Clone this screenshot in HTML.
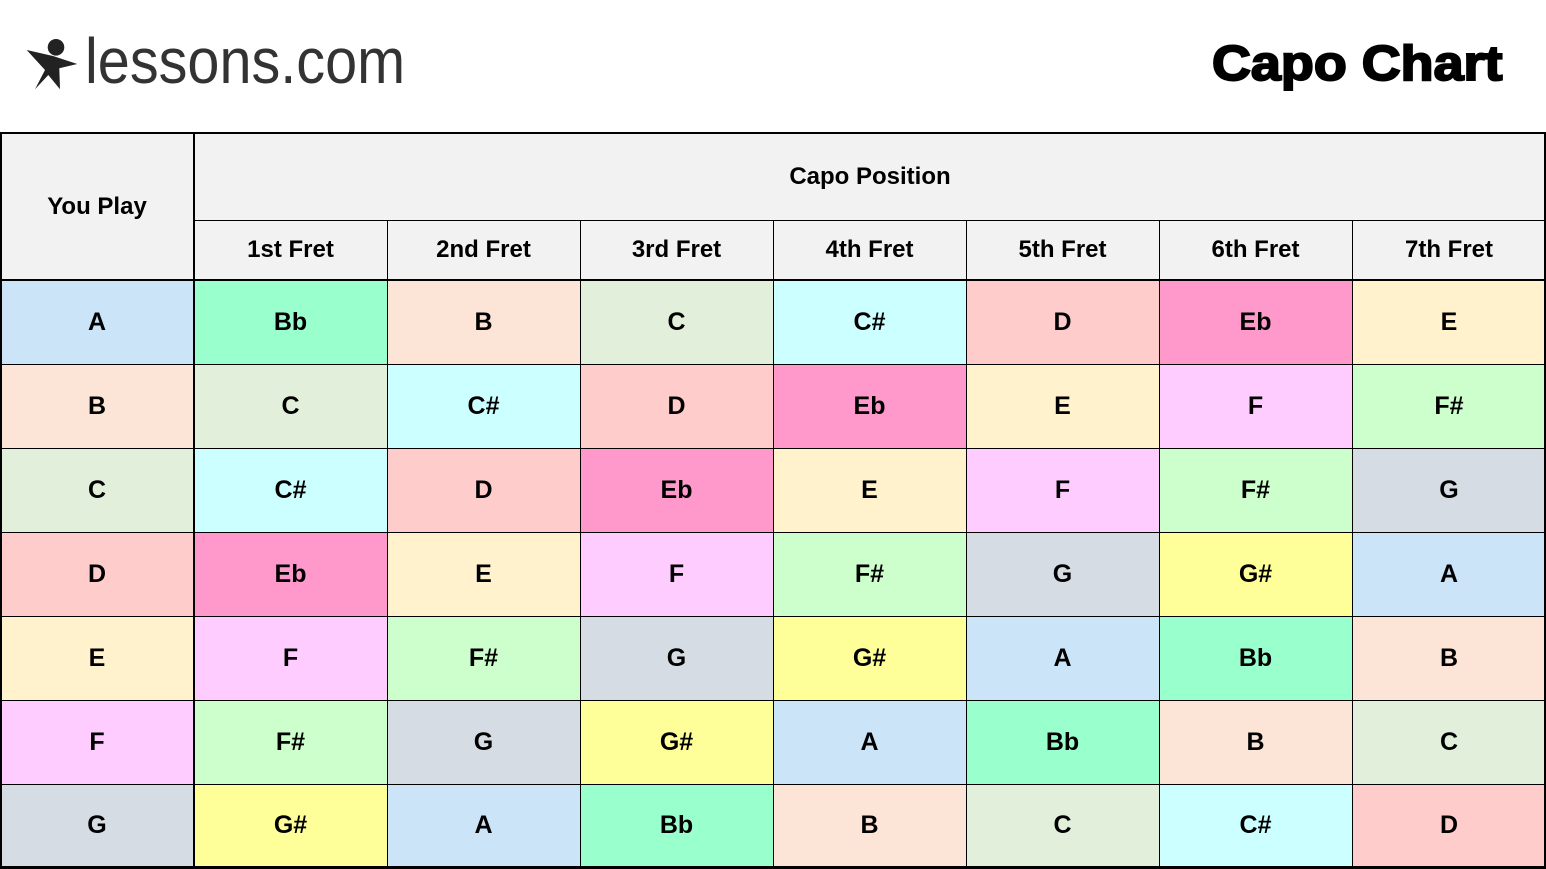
<!DOCTYPE html>
<html>
<head>
<meta charset="utf-8">
<style>
html,body{margin:0;padding:0;background:#fff;}
body{width:1546px;height:869px;position:relative;overflow:hidden;font-family:"Liberation Sans",Arial,sans-serif;}
.c{position:absolute;display:flex;align-items:center;justify-content:center;font-weight:bold;font-size:25px;color:#000;box-sizing:border-box;}
.h{font-size:24px;background:#f2f2f2;}
.hl{position:absolute;background:#000;height:1px;}
.vl{position:absolute;background:#000;width:1px;}
.A{background:#cbe4f8}.Bb{background:#99ffcc}.B{background:#fce4d6}.C{background:#e2efda}
.Cs{background:#ccffff}.D{background:#ffcccc}.Eb{background:#ff99cc}.E{background:#fff2cc}
.F{background:#ffccff}.Fs{background:#ccffcc}.G{background:#d6dce4}.Gs{background:#ffff99}
</style>
</head>
<body>
<svg style="position:absolute;left:0;top:0" width="110" height="110" viewBox="0 0 110 110">
<circle cx="56" cy="47.3" r="8.3" fill="#222"/>
<polygon points="26.7,50 53,56 77.3,64 59.3,68.3 60,89.3 48.3,75 35,89.3 45,70" fill="#222"/>
</svg>
<div style="position:absolute;left:85px;top:29px;font-size:64px;line-height:64px;color:#333;transform:scaleX(0.9);transform-origin:0 0;white-space:nowrap;">lessons.com</div>
<div style="position:absolute;left:1212px;top:40px;font-size:49px;line-height:49px;font-weight:bold;color:#000;-webkit-text-stroke:2px #000;transform:scaleX(1.1);transform-origin:0 0;white-space:nowrap;">Capo Chart</div>

<!-- header -->
<div class="c h" style="left:0;top:133px;width:194px;height:147px;">You Play</div>
<div class="c h" style="left:194px;top:133px;width:1352px;height:87px;">Capo Position</div>
<div class="c h" style="left:194px;top:220px;width:193px;height:60px;">1st Fret</div>
<div class="c h" style="left:387px;top:220px;width:193px;height:60px;">2nd Fret</div>
<div class="c h" style="left:580px;top:220px;width:193px;height:60px;">3rd Fret</div>
<div class="c h" style="left:773px;top:220px;width:193px;height:60px;">4th Fret</div>
<div class="c h" style="left:966px;top:220px;width:193px;height:60px;">5th Fret</div>
<div class="c h" style="left:1159px;top:220px;width:193px;height:60px;">6th Fret</div>
<div class="c h" style="left:1352px;top:220px;width:194px;height:60px;">7th Fret</div>

<!-- row 1 -->
<div class="c A" style="left:0;top:280px;width:194px;height:84px;">A</div>
<div class="c Bb" style="left:194px;top:280px;width:193px;height:84px;">Bb</div>
<div class="c B" style="left:387px;top:280px;width:193px;height:84px;">B</div>
<div class="c C" style="left:580px;top:280px;width:193px;height:84px;">C</div>
<div class="c Cs" style="left:773px;top:280px;width:193px;height:84px;">C#</div>
<div class="c D" style="left:966px;top:280px;width:193px;height:84px;">D</div>
<div class="c Eb" style="left:1159px;top:280px;width:193px;height:84px;">Eb</div>
<div class="c E" style="left:1352px;top:280px;width:194px;height:84px;">E</div>
<!-- row 2 -->
<div class="c B" style="left:0;top:364px;width:194px;height:84px;">B</div>
<div class="c C" style="left:194px;top:364px;width:193px;height:84px;">C</div>
<div class="c Cs" style="left:387px;top:364px;width:193px;height:84px;">C#</div>
<div class="c D" style="left:580px;top:364px;width:193px;height:84px;">D</div>
<div class="c Eb" style="left:773px;top:364px;width:193px;height:84px;">Eb</div>
<div class="c E" style="left:966px;top:364px;width:193px;height:84px;">E</div>
<div class="c F" style="left:1159px;top:364px;width:193px;height:84px;">F</div>
<div class="c Fs" style="left:1352px;top:364px;width:194px;height:84px;">F#</div>
<!-- row 3 -->
<div class="c C" style="left:0;top:448px;width:194px;height:84px;">C</div>
<div class="c Cs" style="left:194px;top:448px;width:193px;height:84px;">C#</div>
<div class="c D" style="left:387px;top:448px;width:193px;height:84px;">D</div>
<div class="c Eb" style="left:580px;top:448px;width:193px;height:84px;">Eb</div>
<div class="c E" style="left:773px;top:448px;width:193px;height:84px;">E</div>
<div class="c F" style="left:966px;top:448px;width:193px;height:84px;">F</div>
<div class="c Fs" style="left:1159px;top:448px;width:193px;height:84px;">F#</div>
<div class="c G" style="left:1352px;top:448px;width:194px;height:84px;">G</div>
<!-- row 4 -->
<div class="c D" style="left:0;top:532px;width:194px;height:84px;">D</div>
<div class="c Eb" style="left:194px;top:532px;width:193px;height:84px;">Eb</div>
<div class="c E" style="left:387px;top:532px;width:193px;height:84px;">E</div>
<div class="c F" style="left:580px;top:532px;width:193px;height:84px;">F</div>
<div class="c Fs" style="left:773px;top:532px;width:193px;height:84px;">F#</div>
<div class="c G" style="left:966px;top:532px;width:193px;height:84px;">G</div>
<div class="c Gs" style="left:1159px;top:532px;width:193px;height:84px;">G#</div>
<div class="c A" style="left:1352px;top:532px;width:194px;height:84px;">A</div>
<!-- row 5 -->
<div class="c E" style="left:0;top:616px;width:194px;height:84px;">E</div>
<div class="c F" style="left:194px;top:616px;width:193px;height:84px;">F</div>
<div class="c Fs" style="left:387px;top:616px;width:193px;height:84px;">F#</div>
<div class="c G" style="left:580px;top:616px;width:193px;height:84px;">G</div>
<div class="c Gs" style="left:773px;top:616px;width:193px;height:84px;">G#</div>
<div class="c A" style="left:966px;top:616px;width:193px;height:84px;">A</div>
<div class="c Bb" style="left:1159px;top:616px;width:193px;height:84px;">Bb</div>
<div class="c B" style="left:1352px;top:616px;width:194px;height:84px;">B</div>
<!-- row 6 -->
<div class="c F" style="left:0;top:700px;width:194px;height:84px;">F</div>
<div class="c Fs" style="left:194px;top:700px;width:193px;height:84px;">F#</div>
<div class="c G" style="left:387px;top:700px;width:193px;height:84px;">G</div>
<div class="c Gs" style="left:580px;top:700px;width:193px;height:84px;">G#</div>
<div class="c A" style="left:773px;top:700px;width:193px;height:84px;">A</div>
<div class="c Bb" style="left:966px;top:700px;width:193px;height:84px;">Bb</div>
<div class="c B" style="left:1159px;top:700px;width:193px;height:84px;">B</div>
<div class="c C" style="left:1352px;top:700px;width:194px;height:84px;">C</div>
<!-- row 7 -->
<div class="c G" style="left:0;top:784px;width:194px;height:82px;">G</div>
<div class="c Gs" style="left:194px;top:784px;width:193px;height:82px;">G#</div>
<div class="c A" style="left:387px;top:784px;width:193px;height:82px;">A</div>
<div class="c Bb" style="left:580px;top:784px;width:193px;height:82px;">Bb</div>
<div class="c B" style="left:773px;top:784px;width:193px;height:82px;">B</div>
<div class="c C" style="left:966px;top:784px;width:193px;height:82px;">C</div>
<div class="c Cs" style="left:1159px;top:784px;width:193px;height:82px;">C#</div>
<div class="c D" style="left:1352px;top:784px;width:194px;height:82px;">D</div>

<!-- grid lines -->
<div class="hl" style="left:194px;top:220px;width:1352px;"></div>
<div class="hl" style="left:0;top:279px;width:1546px;height:2px;"></div>
<div class="hl" style="left:0;top:364px;width:1546px;"></div>
<div class="hl" style="left:0;top:448px;width:1546px;"></div>
<div class="hl" style="left:0;top:532px;width:1546px;"></div>
<div class="hl" style="left:0;top:616px;width:1546px;"></div>
<div class="hl" style="left:0;top:700px;width:1546px;"></div>
<div class="hl" style="left:0;top:784px;width:1546px;"></div>

<div class="vl" style="left:193px;top:133px;height:735px;width:2px;"></div>
<div class="vl" style="left:387px;top:220px;height:648px;"></div>
<div class="vl" style="left:580px;top:220px;height:648px;"></div>
<div class="vl" style="left:773px;top:220px;height:648px;"></div>
<div class="vl" style="left:966px;top:220px;height:648px;"></div>
<div class="vl" style="left:1159px;top:220px;height:648px;"></div>
<div class="vl" style="left:1352px;top:220px;height:648px;"></div>

<!-- outer border -->
<div class="hl" style="left:0;top:132px;width:1546px;height:2px;"></div>
<div class="hl" style="left:0;top:866px;width:1546px;height:3px;"></div>
<div class="vl" style="left:0;top:132px;height:737px;width:2px;"></div>
<div class="vl" style="left:1544px;top:132px;height:737px;width:2px;"></div>
</body>
</html>
